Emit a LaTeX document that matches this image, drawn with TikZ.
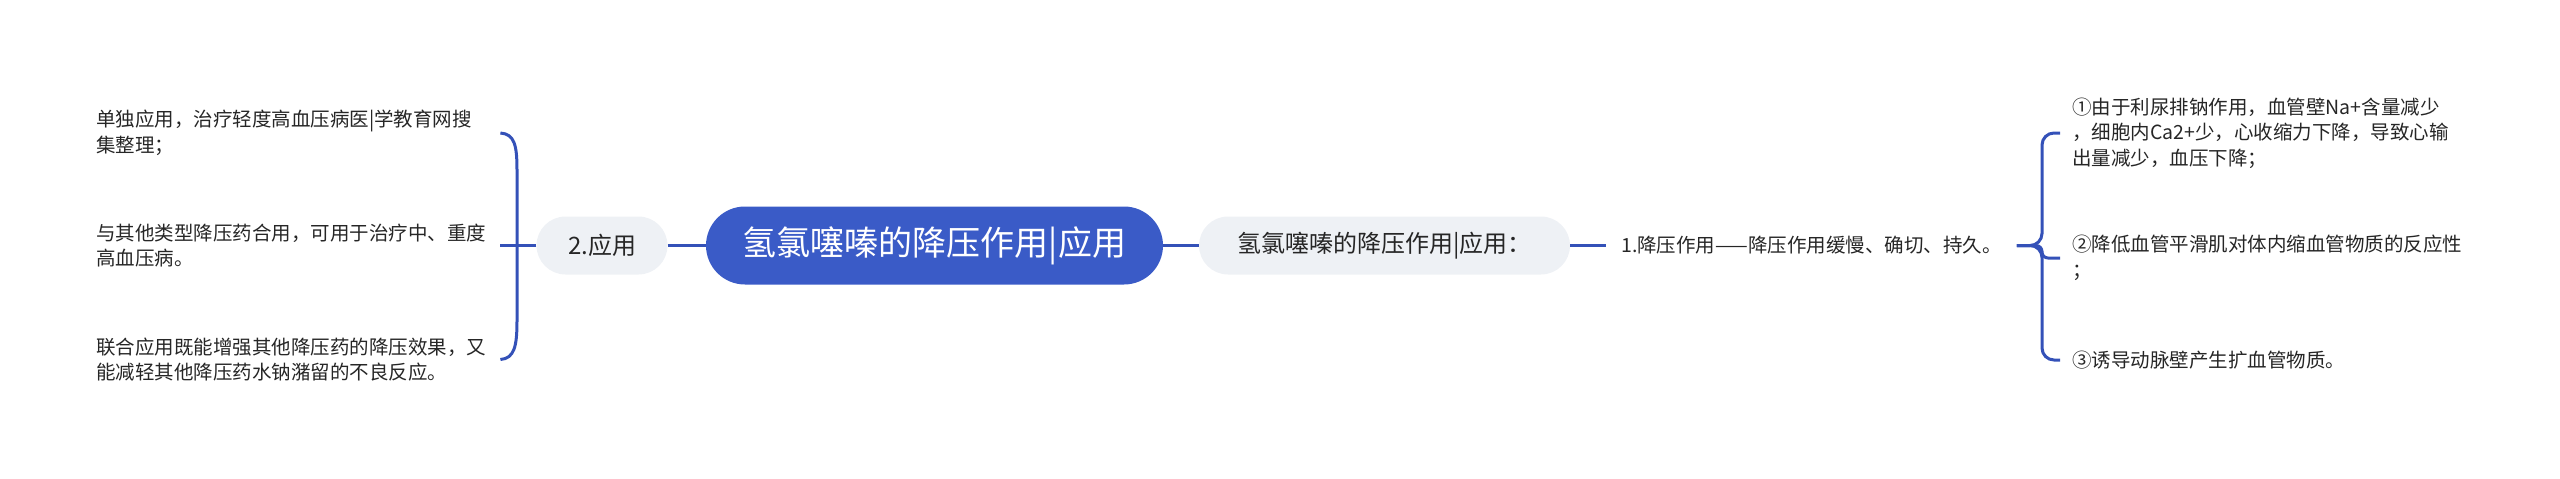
\documentclass[tikz,border=0pt]{standalone}
\usepackage{fontspec}
\setmainfont{Noto Sans CJK SC}
\definecolor{mainblue}{HTML}{3A5BC7}
\definecolor{lineblue}{HTML}{3451B8}
\definecolor{nodegray}{HTML}{EEF1F5}
\definecolor{txt}{HTML}{262626}
\begin{document}
\begin{tikzpicture}[x=1pt,y=-1pt,
 root/.style={fill=mainblue, text=white, rounded corners=39pt, minimum width=457pt, minimum height=78pt, inner sep=0pt, font=\fontsize{34}{40}\selectfont},
 sub/.style={fill=nodegray, text=txt, rounded corners=29pt, minimum height=58pt, inner sep=0pt, font=\fontsize{24}{30}\selectfont},
 leaf/.style={text=txt, inner ysep=0pt, align=left, font=\fontsize{19.5}{25.5}\selectfont},
 conn/.style={draw=lineblue, line width=3pt},
]
\useasboundingbox (0,0) rectangle (2560,479);
\node[root] (root) at (934.5,245.5) {氢氯噻嗪的降压作用|应用};
\node[sub, minimum width=131pt] (n2) at (602,245.5) {2.应用};
\node[sub, minimum width=371pt] (n1) at (1384.5,245.5) {氢氯噻嗪的降压作用|应用：};
\node[leaf, anchor=west, inner xsep=15pt] (t1) at (1606,245.5) {1.降压作用——降压作用缓慢、确切、持久。};

\node[leaf, anchor=west, inner xsep=0pt, text width=404pt] (l1) at (96,133) {单独应用，治疗轻度高血压病医|学教育网搜\\集整理；};
\node[leaf, anchor=west, inner xsep=0pt, text width=404pt] (l2) at (96,245.5) {与其他类型降压药合用，可用于治疗中、重度\\高血压病。};
\node[leaf, anchor=west, inner xsep=0pt, text width=404pt] (l3) at (96,359.5) {联合应用既能增强其他降压药的降压效果，又\\能减轻其他降压药水钠潴留的不良反应。};

\node[leaf, anchor=west, inner xsep=12pt] (r1) at (2060,133) {①由于利尿排钠作用，血管壁Na+含量减少\\，细胞内Ca2+少，心收缩力下降，导致心输\\出量减少，血压下降；};
\node[leaf, anchor=west, inner xsep=12pt] (r2) at (2060,258) {②降低血管平滑肌对体内缩血管物质的反应性\\；};
\node[leaf, anchor=west, inner xsep=12pt] (r3) at (2060,360) {③诱导动脉壁产生扩血管物质。};

\draw[conn] (n2.east) -- (root.west);
\draw[conn] (root.east) -- (n1.west);
\draw[conn] (n1.east) -- (t1.west);

\draw[conn] (n2.west) -- (l2.east);
\draw[conn] (l1.east) .. controls +(14,1) and +(0,-25) .. (517,170) -- (517,321) .. controls +(0,25) and +(14,-1) .. (l3.east);

\draw[conn, rounded corners=12pt] (t1.east) -- (2042,245.5) -- (2042,133) -- (r1.west);
\draw[conn, rounded corners=12pt] (t1.east) -- (2042,245.5) -- (2042,360) -- (r3.west);
\draw[conn, rounded corners=6pt] (t1.east) -- (2042,245.5) -- (2042,258) -- (r2.west);
\end{tikzpicture}
\end{document}
